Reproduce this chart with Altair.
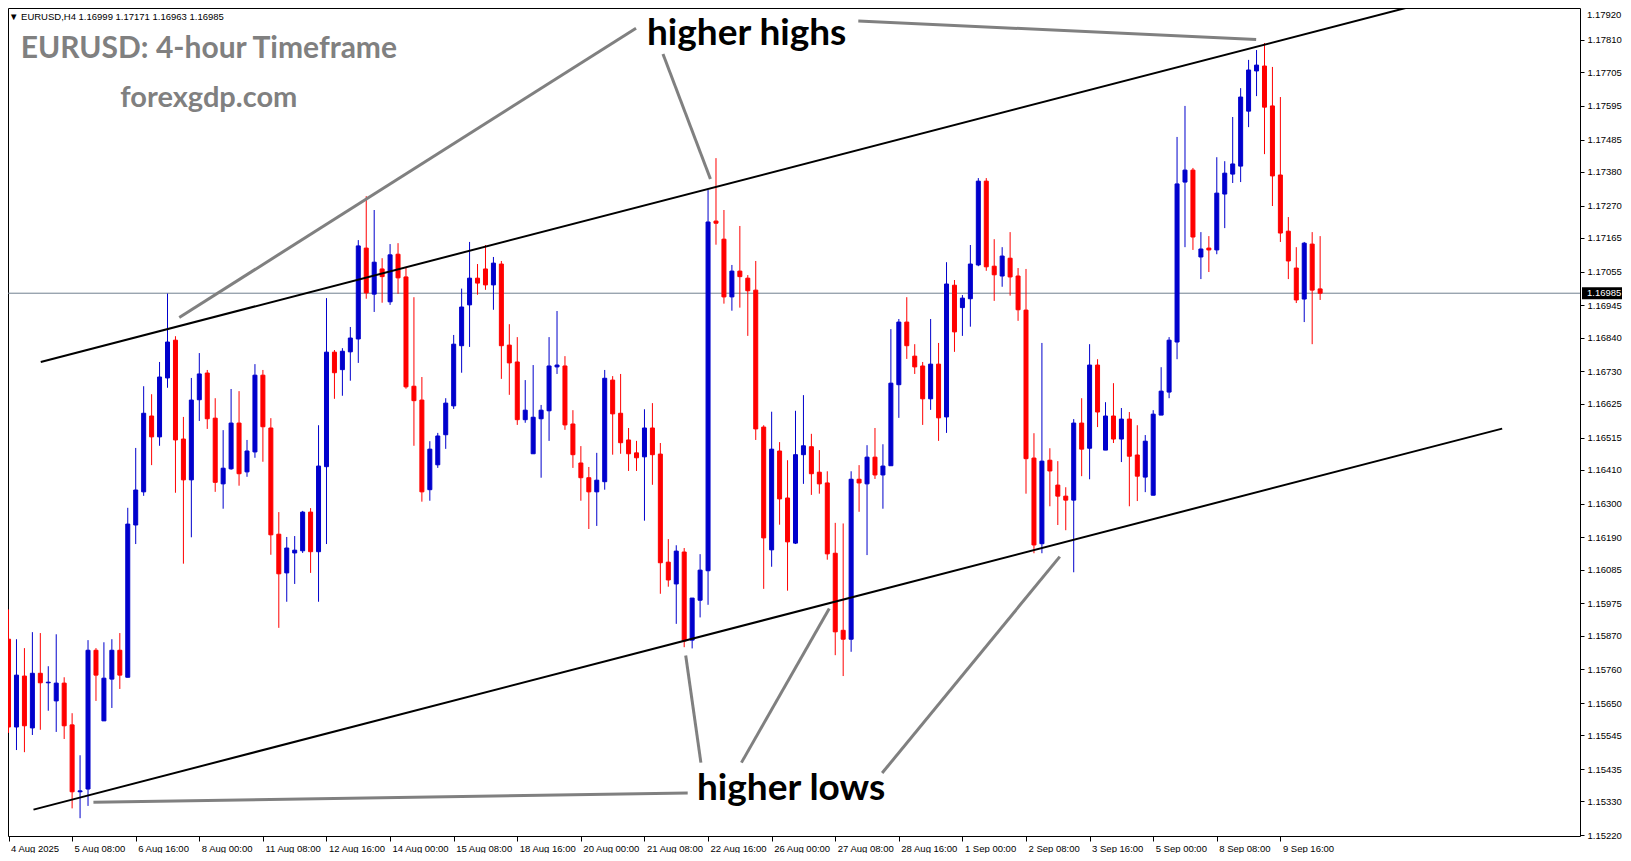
import altair as alt
import pandas as pd

# ---------------- data (EURUSD H4 candles, index 0 = 4 Aug 2025 00:00) ----------------
opens = [1.15858, 1.15572, 1.15738, 1.15569, 1.15747, 1.15716, 1.15657, 1.15715, 1.15579, 1.15361,
         1.15370, 1.15822, 1.15592, 1.15728, 1.15822, 1.15734, 1.16230, 1.16338, 1.16585, 1.16517,
         1.16709, 1.16832, 1.16510, 1.16377, 1.16638, 1.16725, 1.16578, 1.16364, 1.16413, 1.16562,
         1.16403, 1.16468, 1.16718, 1.16546, 1.16200, 1.16074, 1.16139, 1.16146, 1.16272, 1.16143,
         1.16420, 1.16793, 1.16736, 1.16794, 1.16836, 1.17132, 1.16982, 1.17064, 1.16957, 1.17112,
         1.17038, 1.16682, 1.16637, 1.16345, 1.16426, 1.16524, 1.16618, 1.16814, 1.16947, 1.17034,
         1.17064, 1.17012, 1.17080, 1.16816, 1.16761, 1.16573, 1.16462, 1.16576, 1.16602, 1.16745,
         1.16748, 1.16559, 1.16432, 1.16384, 1.16338, 1.16371, 1.16702, 1.16594, 1.16507, 1.16465,
         1.16452, 1.16546, 1.16461, 1.16109, 1.16038, 1.16142, 1.15855, 1.15985, 1.16081, 1.17220,
         1.17161, 1.16973, 1.17057, 1.17034, 1.16995, 1.16549, 1.16149, 1.16471, 1.16318, 1.16171,
         1.16459, 1.16485, 1.16402, 1.16367, 1.16138, 1.15887, 1.15858, 1.16379, 1.16364, 1.16451,
         1.16393, 1.16423, 1.16687, 1.16891, 1.16780, 1.16748, 1.16641, 1.16754, 1.16582, 1.17011,
         1.16938, 1.16967, 1.17077, 1.17350, 1.17073, 1.17041, 1.17099, 1.17041, 1.16930, 1.16448,
         1.16169, 1.16441, 1.16360, 1.16324, 1.16311, 1.16562, 1.16480, 1.16751, 1.16474, 1.16585,
         1.16510, 1.16575, 1.16458, 1.16386, 1.16327, 1.16588, 1.16663, 1.16826, 1.17347, 1.17386,
         1.17103, 1.17132, 1.17126, 1.17308, 1.17373, 1.17399, 1.17578, 1.17709, 1.17725, 1.17595,
         1.17370, 1.17187, 1.17067, 1.16966, 1.17145, 1.16999]
highs = [1.15955, 1.15858, 1.15829, 1.15881, 1.15878, 1.15770, 1.15874, 1.15734, 1.15617, 1.15480,
         1.15855, 1.15829, 1.15848, 1.15858, 1.15878, 1.16286, 1.16481, 1.16682, 1.16656, 1.16761,
         1.16984, 1.16845, 1.16582, 1.16709, 1.16790, 1.16735, 1.16643, 1.16539, 1.16673, 1.16666,
         1.16507, 1.16754, 1.16735, 1.16578, 1.16272, 1.16191, 1.16194, 1.16276, 1.16285, 1.16555,
         1.16969, 1.16800, 1.16806, 1.16875, 1.17158, 1.17301, 1.17256, 1.17099, 1.17145, 1.17148,
         1.17068, 1.16972, 1.16712, 1.16503, 1.16530, 1.16643, 1.16849, 1.17000, 1.17152, 1.17080,
         1.17142, 1.17103, 1.17090, 1.16884, 1.16842, 1.16702, 1.16751, 1.16621, 1.16842, 1.16927,
         1.16780, 1.16604, 1.16487, 1.16419, 1.16465, 1.16735, 1.16715, 1.16722, 1.16546, 1.16504,
         1.16607, 1.16627, 1.16497, 1.16184, 1.16164, 1.16155, 1.15992, 1.16135, 1.17321, 1.17425,
         1.17256, 1.17077, 1.17204, 1.17044, 1.17090, 1.16555, 1.16599, 1.16500, 1.16441, 1.16602,
         1.16653, 1.16527, 1.16474, 1.16405, 1.16237, 1.16235, 1.16405, 1.16425, 1.16490, 1.16546,
         1.16493, 1.16868, 1.16901, 1.16972, 1.16819, 1.16761, 1.16901, 1.16823, 1.17086, 1.17028,
         1.16979, 1.17142, 1.17360, 1.17360, 1.17161, 1.17135, 1.17184, 1.17067, 1.17064, 1.16529,
         1.16823, 1.16480, 1.16438, 1.16353, 1.16575, 1.16643, 1.16819, 1.16770, 1.16630, 1.16692,
         1.16611, 1.16598, 1.16555, 1.16523, 1.16604, 1.16744, 1.16842, 1.17494, 1.17595, 1.17393,
         1.17184, 1.17171, 1.17428, 1.17415, 1.17559, 1.17653, 1.17745, 1.17777, 1.17800, 1.17722,
         1.17624, 1.17233, 1.17135, 1.17152, 1.17184, 1.17171]
lows = [1.15553, 1.15497, 1.15490, 1.15546, 1.15563, 1.15625, 1.15556, 1.15533, 1.15307, 1.15275,
        1.15315, 1.15657, 1.15592, 1.15634, 1.15696, 1.15734, 1.16168, 1.16325, 1.16425, 1.16488,
        1.16677, 1.16335, 1.16104, 1.16190, 1.16569, 1.16543, 1.16338, 1.16283, 1.16410, 1.16358,
        1.16387, 1.16449, 1.16436, 1.16133, 1.15895, 1.15980, 1.16038, 1.16139, 1.16074, 1.15980,
        1.16168, 1.16641, 1.16651, 1.16700, 1.16758, 1.16967, 1.16924, 1.16954, 1.16947, 1.16983,
        1.16674, 1.16488, 1.16306, 1.16309, 1.16416, 1.16478, 1.16608, 1.16726, 1.16810, 1.16980,
        1.16996, 1.16931, 1.16706, 1.16654, 1.16556, 1.16563, 1.16462, 1.16384, 1.16504, 1.16722,
        1.16540, 1.16416, 1.16309, 1.16217, 1.16227, 1.16345, 1.16459, 1.16462, 1.16406, 1.16406,
        1.16244, 1.16361, 1.16006, 1.16029, 1.15908, 1.15832, 1.15828, 1.15929, 1.15970, 1.17143,
        1.16951, 1.16928, 1.16938, 1.16846, 1.16507, 1.16022, 1.16094, 1.16231, 1.16016, 1.16168,
        1.16364, 1.16328, 1.16332, 1.16117, 1.15806, 1.15738, 1.15817, 1.16273, 1.16132, 1.16380,
        1.16283, 1.16423, 1.16579, 1.16771, 1.16722, 1.16556, 1.16605, 1.16504, 1.16530, 1.16794,
        1.16846, 1.16876, 1.17073, 1.17058, 1.16960, 1.17006, 1.16977, 1.16895, 1.16332, 1.16138,
        1.16138, 1.16291, 1.16230, 1.16213, 1.16076, 1.16389, 1.16379, 1.16549, 1.16474, 1.16497,
        1.16435, 1.16291, 1.16308, 1.16337, 1.16327, 1.16588, 1.16643, 1.16770, 1.17135, 1.17126,
        1.17031, 1.17054, 1.17112, 1.17197, 1.17344, 1.17347, 1.17526, 1.17627, 1.17438, 1.17269,
        1.17152, 1.17031, 1.16953, 1.16891, 1.16819, 1.16963]
closes = [1.15572, 1.15741, 1.15576, 1.15747, 1.15716, 1.15718, 1.15715, 1.15576, 1.15361, 1.15364,
          1.15822, 1.15741, 1.15731, 1.15822, 1.15741, 1.16233, 1.16344, 1.16594, 1.16517, 1.16712,
          1.16826, 1.16507, 1.16377, 1.16637, 1.16722, 1.16576, 1.16369, 1.16415, 1.16562, 1.16397,
          1.16471, 1.16718, 1.16550, 1.16198, 1.16071, 1.16155, 1.16148, 1.16272, 1.16143, 1.16422,
          1.16793, 1.16726, 1.16796, 1.16839, 1.17139, 1.16986, 1.17086, 1.17039, 1.17110, 1.17035,
          1.16680, 1.16635, 1.16338, 1.16477, 1.16520, 1.16627, 1.16819, 1.16940, 1.17034, 1.17018,
          1.17012, 1.17083, 1.16814, 1.16758, 1.16573, 1.16604, 1.16581, 1.16604, 1.16748, 1.16751,
          1.16556, 1.16459, 1.16384, 1.16338, 1.16376, 1.16708, 1.16592, 1.16498, 1.16462, 1.16449,
          1.16546, 1.16459, 1.16107, 1.16051, 1.16145, 1.15852, 1.15992, 1.16083, 1.17217, 1.17213,
          1.16973, 1.17057, 1.17039, 1.16993, 1.16543, 1.16188, 1.16477, 1.16315, 1.16175, 1.16459,
          1.16488, 1.16397, 1.16364, 1.16136, 1.15882, 1.15858, 1.16379, 1.16367, 1.16451, 1.16393,
          1.16422, 1.16692, 1.16891, 1.16814, 1.16745, 1.16641, 1.16754, 1.16579, 1.17015, 1.16859,
          1.16969, 1.17080, 1.17350, 1.17071, 1.17045, 1.17106, 1.17038, 1.16931, 1.16446, 1.16165,
          1.16438, 1.16406, 1.16324, 1.16311, 1.16562, 1.16477, 1.16751, 1.16598, 1.16585, 1.16510,
          1.16575, 1.16454, 1.16389, 1.16503, 1.16591, 1.16666, 1.16832, 1.17341, 1.17386, 1.17168,
          1.17129, 1.17126, 1.17311, 1.17376, 1.17406, 1.17624, 1.17712, 1.17728, 1.17591, 1.17367,
          1.17181, 1.17090, 1.16963, 1.17148, 1.16995, 1.16985]

x_labels = ["4 Aug 2025", "5 Aug 08:00", "6 Aug 16:00", "8 Aug 00:00", "11 Aug 08:00",
            "12 Aug 16:00", "14 Aug 00:00", "15 Aug 08:00", "18 Aug 16:00", "20 Aug 00:00",
            "21 Aug 08:00", "22 Aug 16:00", "26 Aug 00:00", "27 Aug 08:00", "28 Aug 16:00",
            "1 Sep 00:00", "2 Sep 08:00", "3 Sep 16:00", "5 Sep 00:00", "8 Sep 08:00", "9 Sep 16:00"]
y_ticks = [1.17920, 1.17810, 1.17705, 1.17595, 1.17485, 1.17380, 1.17270, 1.17165, 1.17055,
           1.16945, 1.16840, 1.16730, 1.16625, 1.16515, 1.16410, 1.16300, 1.16190, 1.16085,
           1.15975, 1.15870, 1.15760, 1.15650, 1.15545, 1.15435, 1.15330, 1.15220]

last_price = 1.16985
header = "\u25bc EURUSD,H4  1.16999 1.17171 1.16963 1.16985"

# channel lines (candle index, price)
trend_x1 = [4.05, 3.14]
trend_y1 = [1.16761, 1.15303]
trend_x2 = [178.15, 187.9]
trend_y2 = [1.17930, 1.16544]

# pointer lines from the annotations
ptr_x1 = [78.94, 82.33, 106.9, 85.44, 87.1, 92.2, 109.9]
ptr_y1 = [1.17848, 1.17764, 1.17872, 1.15357, 1.15456, 1.15456, 1.15422]
ptr_x2 = [21.48, 88.3, 156.95, 10.68, 85.19, 103.25, 132.25]
ptr_y2 = [1.16906, 1.17357, 1.17811, 1.15327, 1.15805, 1.15958, 1.16127]

# annotation texts (anchor: candle index, price)
hh_text, hh_x, hh_y = "higher highs", 92.86, 1.17795      # alphabetic baseline
hl_text, hl_x, hl_y = "higher lows", 98.45, 1.15371       # middle baseline

brand_text = ["EURUSD: 4-hour Timeframe", "forexgdp.com"]
brand_x = [25.2, 25.2]
brand_y = [1.17780, 1.17621]
brand_size = [30, 29]

# ---------------- chart ----------------
W, H = 1572, 828
Y_TOP, Y_BOT = 1.17914, 1.15217
df = pd.DataFrame({"i": list(range(len(opens))), "open": opens, "high": highs,
                   "low": lows, "close": closes})
df["dir"] = ["up" if c >= o else "down" for o, c in zip(opens, closes)]

FONT = "Liberation Sans, DejaVu Sans"
label_js = "[" + ",".join("'" + s + "'" for s in x_labels) + "][round(datum.value/8)]"

xscale = alt.Scale(domain=[0.5625, 0.5625 + W / 8], nice=False, zero=False)
yscale = alt.Scale(domain=[Y_BOT, Y_TOP], nice=False, zero=False)
xaxis = alt.Axis(values=list(range(0, 161, 8)), labelExpr=label_js, labelAlign="left",
                 labelOffset=2, labelPadding=2, tickSize=5, tickColor="black",
                 labelColor="black", labelFont=FONT, labelFontSize=9.5, domain=False,
                 grid=False, title=None, labelOverlap=False, labelBound=False,
                 labelFlush=False)
yaxis = alt.Axis(orient="right", values=[v for v in y_ticks if Y_BOT <= v <= Y_TOP],
                 format=".5f", tickSize=4, labelPadding=3,
                 tickColor="black", labelColor="black", labelFont=FONT, labelFontSize=9.5,
                 domain=False, grid=False, title=None, labelOverlap=False, labelBound=False,
                 labelFlush=False, labelBaseline="middle")

col_scale = alt.Scale(domain=["up", "down"], range=["#0000CC", "#FF0000"])


def X(f):
    return alt.X(f, type="quantitative", scale=xscale, axis=xaxis)


def Y(f):
    return alt.Y(f, type="quantitative", scale=yscale, axis=yaxis)


price_df = pd.DataFrame({"p": [last_price], "lab": [f"{last_price:.5f}"]})
price_line = alt.Chart(price_df).mark_rule(color="#708090", strokeWidth=1).encode(y=Y("p"))

wicks = alt.Chart(df).mark_rule(strokeWidth=1).encode(
    x=X("i"), y=Y("low"), y2="high",
    color=alt.Color("dir:N", scale=col_scale, legend=None))
bodies = alt.Chart(df).mark_bar(size=4, strokeWidth=1).encode(
    x=X("i"), y=Y("open"), y2="close",
    color=alt.Color("dir:N", scale=col_scale, legend=None),
    stroke=alt.Stroke("dir:N", scale=col_scale, legend=None))

trend_df = pd.DataFrame({"x1": trend_x1, "y1": trend_y1, "x2": trend_x2, "y2": trend_y2})
trends = alt.Chart(trend_df).mark_rule(color="black", strokeWidth=2).encode(
    x=X("x1"), y=Y("y1"), x2="x2", y2="y2")

ptr_df = pd.DataFrame({"x1": ptr_x1, "y1": ptr_y1, "x2": ptr_x2, "y2": ptr_y2})
ptrs = alt.Chart(ptr_df).mark_rule(color="#808080", strokeWidth=3).encode(
    x=X("x1"), y=Y("y1"), x2="x2", y2="y2")

hh = alt.Chart(pd.DataFrame({"x": [hh_x], "y": [hh_y], "t": [hh_text]})).mark_text(
    font="Lato", fontWeight="bold", fontSize=37, color="black", align="center",
    baseline="alphabetic").encode(x=X("x"), y=Y("y"), text="t:N")
hl = alt.Chart(pd.DataFrame({"x": [hl_x], "y": [hl_y], "t": [hl_text]})).mark_text(
    font="Lato", fontWeight="bold", fontSize=37, color="black", align="center",
    baseline="middle").encode(x=X("x"), y=Y("y"), text="t:N")

brand_df = pd.DataFrame({"x": brand_x, "y": brand_y, "t": brand_text, "s": brand_size})
brands = alt.Chart(brand_df).mark_text(font="Lato", fontWeight="bold", color="#808080",
                                       align="center", baseline="middle").encode(
    x=X("x"), y=Y("y"), text="t:N", size=alt.Size("s:Q", scale=None, legend=None))

hdr = alt.Chart(pd.DataFrame({"t": [header]})).mark_text(
    font=FONT, fontSize=9.5, color="black", align="left", baseline="middle").encode(
    x=alt.value(1), y=alt.value(9), text="t:N")

# top tick label that sits on the frame edge (kept fully visible)
top_lab = [v for v in y_ticks if v > Y_TOP]
top_df = pd.DataFrame({"p": top_lab, "lab": [f"{v:.5f}" for v in top_lab]})
top_text = alt.Chart(top_df).mark_text(font=FONT, fontSize=9.5, color="black",
                                       align="left", baseline="top", dy=4).encode(
    x=alt.value(W + 7), y=Y("p"), text="lab:N")

box = alt.Chart(price_df).mark_point(
    shape="M-1,-0.3L1,-0.3L1,0.3L-1,0.3Z", size=1600, filled=True, opacity=1,
    color="black").encode(x=alt.value(W + 22), y=Y("p"))
box_text = alt.Chart(price_df).mark_text(font=FONT, fontSize=9.5, color="white",
                                         align="left", baseline="middle").encode(
    x=alt.value(W + 7), y=Y("p"), text="lab:N")

chart = alt.layer(price_line, wicks, bodies, trends, ptrs, hh, hl, brands, hdr,
                  top_text, box, box_text).properties(
    width=W, height=H,
    padding={"left": 0, "top": 0, "right": 43, "bottom": 17},
    autosize=alt.AutoSizeParams(type="none"),
    background="white",
).configure_view(stroke="black", strokeWidth=1)

chart.save("out.html", embed_options={"renderer": "svg", "actions": False})
